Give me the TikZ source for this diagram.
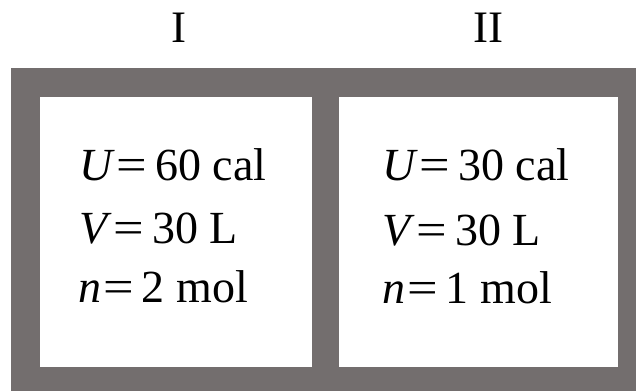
\documentclass[tikz,border=0pt]{standalone}
\usepackage{fontspec}
\usepackage{graphicx}
\setmainfont{Liberation Serif}
\newcommand{\wideeq}{\kern2pt\scalebox{1.18}[1]{=}\kern8pt}
\begin{document}
\begin{tikzpicture}[x=1pt, y=-1pt]
\providecommand{\boxFrameColor}{boxgray}
\definecolor{boxgray}{RGB}{115,110,110}
\tikzset{
  statetext/.style={anchor=base west, inner sep=0pt, font=\fontsize{46}{50}\selectfont},
  titletext/.style={anchor=base, inner sep=0pt, font=\fontsize{45}{48}\selectfont}
}
\useasboundingbox (0,0) rectangle (636,391);
% Outer frame
\fill[\boxFrameColor] (11,68) rectangle (636,391);
% Compartments
\fill[white] (40,97) rectangle (312,367);
\fill[white] (339,97) rectangle (618,367);
% Titles
\node[titletext] (titleI) at (179,42) {I};
\node[titletext] (titleII) at (488,42) {II};
% State of compartment I
\node[statetext] (uI) at (79,180) {\textit{U}\wideeq 60 cal};
\node[statetext] (vI) at (79,243) {\textit{V}\wideeq 30 L};
\node[statetext] (nI) at (78,302) {\textit{n}\wideeq 2 mol};
% State of compartment II
\node[statetext] (uII) at (382,180) {\textit{U}\wideeq 30 cal};
\node[statetext] (vII) at (382,245) {\textit{V}\wideeq 30 L};
\node[statetext] (nII) at (382,303) {\textit{n}\wideeq 1 mol};
\end{tikzpicture}
\end{document}
